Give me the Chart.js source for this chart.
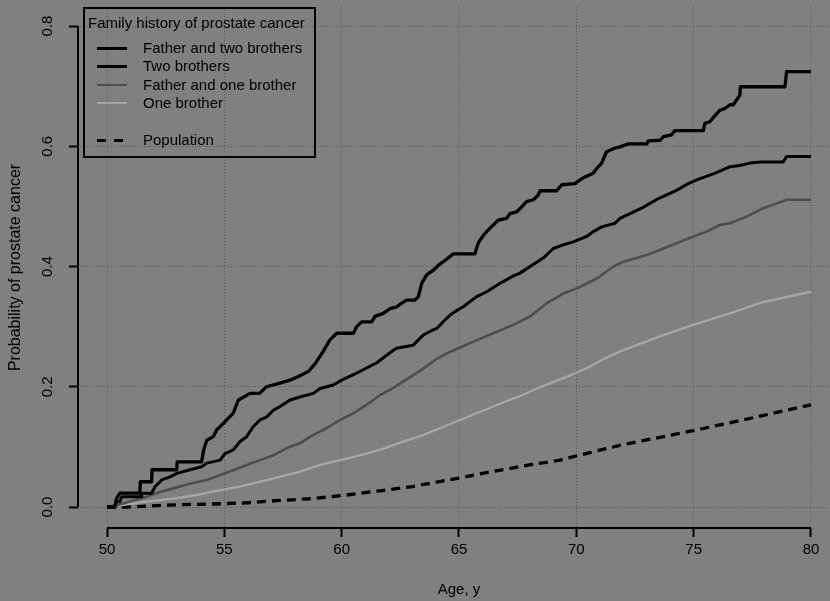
<!DOCTYPE html>
<html>
<head>
<meta charset="utf-8">
<script src="https://cdn.jsdelivr.net/npm/chart.js@4.4.1/dist/chart.umd.min.js"></script>
<style>
    html, body { margin: 0; padding: 0; background: #808080; overflow: hidden; }
    #wrap { position: relative; width: 830px; height: 601px; }
    #legend {
        position: absolute; left: 83px; top: 7px; width: 233px; height: 151px;
        border: 2px solid #000; box-sizing: border-box;
        font-family: "Liberation Sans", Arial, sans-serif; font-size: 15px; color: #000;
    }
    #legend .title { position: absolute; left: 3px; top: 5px; white-space: nowrap; }
    #legend .row { position: absolute; left: 0; height: 18px; width: 100%; }
    #legend .sample { position: absolute; left: 12px; width: 30px; top: 8px; }
    #legend .label { position: absolute; left: 58px; top: 0; white-space: nowrap; line-height: 18px; }
</style>
</head>
<body>
<div id="wrap">
    <canvas id="chart" width="830" height="601"></canvas>
    <div id="legend"><div class="title">Family history of prostate cancer</div></div>
</div>
<script>
// ==========================
// DATA
// ==========================
let xTicks = [50, 55, 60, 65, 70, 75, 80];
let yTicks = [0.0, 0.2, 0.4, 0.6, 0.8];

let seriesNames = ["Father and two brothers", "Two brothers", "Father and one brother", "One brother", "Population"];

let fatherTwoAge = [50.00, 50.34, 50.40, 50.55, 51.40, 51.42, 51.90, 51.92, 52.97, 52.99, 54.03, 54.12, 54.25, 54.53, 54.67, 54.96,
    55.38, 55.60, 56.10, 56.50, 56.80, 57.37, 57.80, 58.20, 58.60, 58.90, 59.20, 59.50, 59.79, 60.50, 60.64, 60.85,
    61.28, 61.42, 61.77, 62.06, 62.35, 62.56, 62.77, 63.12, 63.27, 63.41, 63.62, 63.91, 64.12, 64.33, 64.76, 65.68,
    65.82, 66.04, 66.25, 66.46, 66.67, 67.03, 67.17, 67.46, 67.67, 67.88, 68.17, 68.38, 68.45, 69.16, 69.38, 69.94,
    70.16, 70.37, 70.72, 70.87, 71.08, 71.22, 71.29, 71.65, 71.86, 72.22, 73.00, 73.07, 73.57, 73.71, 74.06, 74.20,
    75.41, 75.48, 75.70, 75.84, 75.98, 76.12, 76.33, 76.55, 76.69, 76.83, 76.97, 76.99, 78.89, 78.96, 80.00];
let fatherTwoProb = [0.000, 0.000, 0.014, 0.023, 0.023, 0.042, 0.042, 0.062, 0.062, 0.075, 0.075, 0.095, 0.111, 0.117, 0.128, 0.139,
    0.156, 0.178, 0.189, 0.189, 0.200, 0.206, 0.211, 0.218, 0.226, 0.240, 0.258, 0.278, 0.289, 0.289, 0.300, 0.308,
    0.308, 0.317, 0.322, 0.330, 0.333, 0.339, 0.344, 0.344, 0.350, 0.372, 0.386, 0.394, 0.402, 0.408, 0.421, 0.421,
    0.439, 0.452, 0.461, 0.469, 0.477, 0.480, 0.488, 0.491, 0.499, 0.508, 0.511, 0.519, 0.526, 0.526, 0.536, 0.538,
    0.544, 0.549, 0.555, 0.563, 0.572, 0.585, 0.591, 0.597, 0.599, 0.604, 0.604, 0.609, 0.610, 0.616, 0.619, 0.626,
    0.626, 0.638, 0.641, 0.648, 0.654, 0.660, 0.663, 0.669, 0.669, 0.677, 0.685, 0.699, 0.699, 0.724, 0.724];

let twoBrothersAge = [50.00, 50.30, 50.41, 50.55, 50.63, 51.46, 51.48, 51.90, 52.05, 52.33, 52.68, 52.97, 53.54, 54.03, 54.25, 54.82,
    55.03, 55.38, 55.67, 55.95, 56.24, 56.52, 56.81, 57.09, 57.37, 57.80, 58.22, 58.79, 59.08, 59.64, 60.00, 60.50,
    61.00, 61.50, 62.00, 62.33, 63.05, 63.27, 63.48, 63.76, 64.05, 64.40, 64.62, 64.83, 65.18, 65.75, 66.18, 66.75,
    67.25, 67.60, 68.03, 68.59, 69.02, 69.44, 69.87, 70.44, 70.72, 71.08, 71.65, 71.86, 72.29, 72.78, 73.14, 73.50,
    74.13, 74.42, 74.77, 75.13, 75.48, 75.84, 76.19, 76.55, 76.97, 77.40, 77.83, 78.82, 78.96, 80.00];
let twoBrothersProb = [0.000, 0.000, 0.009, 0.009, 0.017, 0.017, 0.023, 0.023, 0.034, 0.045, 0.050, 0.056, 0.062, 0.067, 0.073, 0.078,
    0.089, 0.095, 0.109, 0.117, 0.134, 0.145, 0.150, 0.161, 0.167, 0.178, 0.183, 0.189, 0.197, 0.203, 0.211, 0.220,
    0.230, 0.240, 0.255, 0.264, 0.269, 0.278, 0.286, 0.292, 0.297, 0.311, 0.319, 0.325, 0.333, 0.350, 0.358, 0.372,
    0.383, 0.389, 0.400, 0.414, 0.430, 0.436, 0.441, 0.450, 0.458, 0.466, 0.472, 0.480, 0.488, 0.497, 0.505, 0.513,
    0.524, 0.530, 0.538, 0.544, 0.549, 0.554, 0.560, 0.566, 0.568, 0.572, 0.574, 0.574, 0.583, 0.583];

let fatherOneAge = [50.00, 50.41, 50.98, 51.69, 52.26, 52.83, 53.54, 54.25, 54.82, 55.24, 55.95, 56.52, 57.09, 57.66, 58.22, 58.79,
    59.36, 59.93, 60.50, 61.07, 61.63, 62.20, 62.80, 63.40, 64.00, 64.50, 64.98, 65.61, 66.46, 67.31, 68.03, 68.74,
    69.44, 70.16, 70.87, 71.58, 72.00, 73.00, 73.71, 74.42, 74.98, 75.55, 76.12, 76.55, 77.26, 77.97, 78.54, 78.96, 80.00];
let fatherOneProb = [0.000, 0.003, 0.009, 0.017, 0.025, 0.031, 0.039, 0.045, 0.053, 0.059, 0.070, 0.078, 0.086, 0.098, 0.106, 0.120,
    0.131, 0.145, 0.156, 0.170, 0.186, 0.198, 0.213, 0.228, 0.245, 0.256, 0.264, 0.275, 0.289, 0.303, 0.317, 0.339,
    0.355, 0.366, 0.380, 0.400, 0.408, 0.419, 0.430, 0.441, 0.450, 0.458, 0.469, 0.472, 0.483, 0.497, 0.505, 0.511, 0.511];

let oneBrotherAge = [50.00, 50.55, 51.69, 52.83, 53.82, 54.82, 55.67, 56.52, 57.37, 58.22, 59.08, 59.93, 60.78, 61.63, 62.50, 63.50,
    64.50, 65.50, 66.50, 67.50, 68.50, 69.50, 70.50, 71.20, 72.00, 73.71, 74.98, 76.55, 77.97, 80.00];
let oneBrotherProb = [0.000, 0.003, 0.009, 0.014, 0.020, 0.028, 0.034, 0.042, 0.050, 0.059, 0.070, 0.078, 0.086, 0.095, 0.107, 0.120,
    0.136, 0.152, 0.168, 0.183, 0.200, 0.215, 0.232, 0.247, 0.261, 0.286, 0.303, 0.322, 0.341, 0.358];

let populationAge = [50.00, 50.84, 53.11, 54.53, 55.95, 57.37, 58.79, 60.21, 61.63, 63.00, 64.00, 65.00, 66.00, 67.00, 68.00, 69.30,
    70.72, 72.14, 73.57, 74.98, 76.41, 77.83, 79.53, 80.00];
let populationProb = [0.000, 0.000, 0.004, 0.005, 0.007, 0.011, 0.014, 0.020, 0.027, 0.034, 0.041, 0.048, 0.056, 0.063, 0.070, 0.078,
    0.092, 0.105, 0.116, 0.127, 0.139, 0.151, 0.166, 0.170];

// ==========================
// STYLES
// ==========================
let lineColors = ["#000000", "#000000", "#4e4e4e", "#a6a6a6", "#000000"];
let lineWidths = [3.3, 3, 2.6, 2.4, 3.3];
let lineDashes = [[], [], [], [], [9, 6]];

function toPoints(ages, probs) {
    let pts = [];
    for (let i = 0; i < ages.length; i++) {
        pts.push({ x: ages[i], y: probs[i] });
    }
    return pts;
}

let allSeries = [
    toPoints(fatherTwoAge, fatherTwoProb),
    toPoints(twoBrothersAge, twoBrothersProb),
    toPoints(fatherOneAge, fatherOneProb),
    toPoints(oneBrotherAge, oneBrotherProb),
    toPoints(populationAge, populationProb)
];

let datasets = [];
for (let i = 0; i < allSeries.length; i++) {
    datasets.push({
        label: seriesNames[i],
        data: allSeries[i],
        borderColor: lineColors[i],
        borderWidth: lineWidths[i],
        borderDash: lineDashes[i],
        borderJoinStyle: "round",
        pointRadius: 0,
        tension: 0,
        fill: false
    });
}

// ==========================
// R STYLE AXES (lines + rotated y labels + x title)
// ==========================
const rAxes = {
    id: "rAxes",
    afterDraw(chart) {
        let ctx = chart.ctx;
        let xs = chart.scales.x;
        let ys = chart.scales.y;
        let area = chart.chartArea;
        let x0 = xs.getPixelForValue(xTicks[0]);
        let x1 = xs.getPixelForValue(xTicks[xTicks.length - 1]);
        ctx.save();
        ctx.strokeStyle = "#000";
        ctx.lineWidth = 2;
        ctx.beginPath();
        ctx.moveTo(x0, area.bottom);
        ctx.lineTo(x1, area.bottom);
        ctx.moveTo(area.left, ys.getPixelForValue(yTicks[0]));
        ctx.lineTo(area.left, ys.getPixelForValue(yTicks[yTicks.length - 1]));
        ctx.stroke();

        ctx.fillStyle = "#000";
        ctx.font = '15px "Liberation Sans", Arial, sans-serif';
        ctx.textAlign = "center";
        ctx.textBaseline = "middle";
        for (let v of yTicks) {
            let py = ys.getPixelForValue(v);
            ctx.save();
            ctx.translate(48, py);
            ctx.rotate(-Math.PI / 2);
            ctx.fillText(v.toFixed(1), 0, 0);
            ctx.restore();
        }
        // x axis title centred on the 50-80 span, like R
        ctx.fillText("Age, y", (x0 + x1) / 2, 590);
        ctx.restore();
    }
};

// ==========================
// CHART
// ==========================
let ctx = document.getElementById("chart").getContext("2d");

new Chart(ctx, {
    type: "line",
    data: { datasets: datasets },
    options: {
        responsive: false,
        animation: false,
        layout: { padding: { top: 7, right: 0, left: 0, bottom: 0 } },
        plugins: {
            legend: { display: false },
            tooltip: { enabled: false }
        },
        scales: {
            x: {
                type: "linear",
                min: 48.764,
                max: 80.81,
                afterBuildTicks: function (s) { s.ticks = xTicks.map(v => ({ value: v })); },
                afterFit: function (s) { s.height = 73; },
                grid: {
                    color: "#5a5a5a", lineWidth: 1,
                    drawTicks: true, tickLength: 9, tickColor: "#000", tickWidth: 2, tickBorderDash: []
                },
                border: { display: false, dash: [1, 2] },
                ticks: {
                    autoSkip: false, maxRotation: 0, padding: 4, color: "#000",
                    font: { family: "Liberation Sans", size: 15 },
                    callback: function (v) { return String(v); }
                }
            },
            y: {
                type: "linear",
                min: -0.0349,
                max: 0.8316,
                afterBuildTicks: function (s) { s.ticks = yTicks.map(v => ({ value: v })); },
                afterFit: function (s) { s.width = 78; },
                grid: {
                    color: "#5a5a5a", lineWidth: 1,
                    drawTicks: true, tickLength: 9, tickColor: "#000", tickWidth: 2, tickBorderDash: []
                },
                border: { display: false, dash: [1, 2] },
                ticks: { display: false },
                title: {
                    display: true, text: "Probability of prostate cancer", color: "#000",
                    font: { family: "Liberation Sans", size: 16 },
                    padding: { top: 6, bottom: 0 }
                }
            }
        }
    },
    plugins: [rAxes]
});

// ==========================
// LEGEND (inside plot, like R)
// ==========================
let legend = document.getElementById("legend");
let rowTops = [30, 48, 67, 85, 122];
for (let i = 0; i < seriesNames.length; i++) {
    let row = document.createElement("div");
    row.className = "row";
    row.style.top = rowTops[i] + "px";
    let sample = document.createElement("div");
    sample.className = "sample";
    if (lineDashes[i].length) {
        sample.style.height = "3px";
        sample.style.background = "repeating-linear-gradient(90deg, #000 0 9px, transparent 9px 17px)";
    } else {
        sample.style.borderTop = lineWidths[i] + "px solid " + lineColors[i];
    }
    let label = document.createElement("div");
    label.className = "label";
    label.textContent = seriesNames[i];
    row.appendChild(sample);
    row.appendChild(label);
    legend.appendChild(row);
}
</script>
</body>
</html>
